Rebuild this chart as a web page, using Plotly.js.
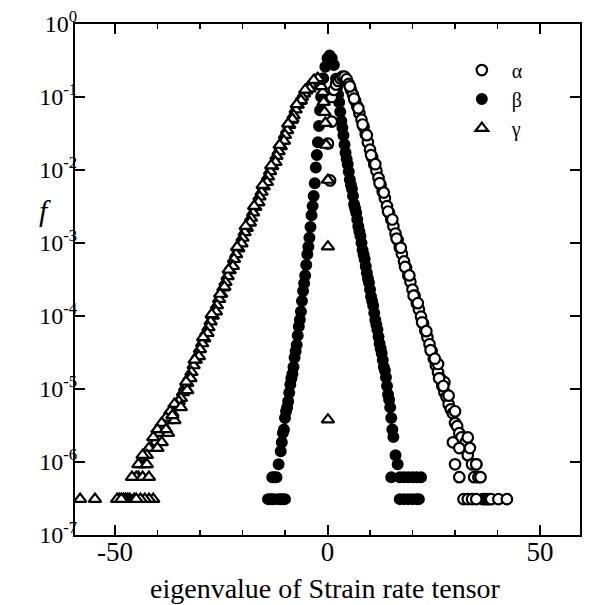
<!DOCTYPE html>
<html>
<head>
<meta charset="utf-8">
<script src="https://cdn.plot.ly/plotly-3.0.1.min.js"></script>
<style>body{margin:0;background:#fff}#chart{width:589px;height:605px}</style>
</head>
<body>
<div id="chart"></div>
<script>
// gamma (open triangles): smallest eigenvalue
const gammaX = [-1.1,-0.9,-0.7,-0.5,-0.3,0.1,0.1,0.1,
  -1.5,-2.0,-2.5,-3.0,-3.5,-4.0,-4.5,-5.0,-5.5,-6.0,-6.5,-7.0,-7.5,-8.0,-8.5,-9.0,-9.5,-10,
  -10.5,-11,-11.5,-12,-12.5,-13,-13.5,-14,-14.5,-15,-15.5,-16,-16.5,-17,-17.5,-18,-18.5,-19,-19.5,-20,
  -20.5,-21,-21.5,-22,-22.5,-23,-23.5,-24,-24.5,-25,-25.5,-26,-26.5,-27,-27.5,-28,-28.5,-29,-29.5,-30,
  -30.5,-31,-31.5,-32,-32.5,-33,-33.5,-34,-34.5,-35,-35.5,-36,-36.5,-37,-37.5,-38,-38.5,-39,-39.5,-40,
  -40.5,-41,-41.5,-42,-42.5,-43,-43.5,-44,-44.5,-45,-45.5,-46,-46.5,-47,-47.5,-48,-49,-49.5,-54.7,-58.2,
  -41,-42,-43,-44,-45,-48.5,-43.5,-44.5,-42.5,-42,
  -33,-34.5,-36,-37.5,-39,-40,-38,-36.5,
  -2.25,-3.25,-4.25,-5.25,-6.25,-7.25,-8.25,-9.25,-10.25,-11.25,-12.25,-13.25,-14.25,-15.25,-16.25,-17.25,
  -18.25,-19.25,-20.25,-21.25,-22.25,-23.25,-24.25,-25.25,-26.25,-27.25,-28.25,-29.25,-30.25,-31.25,-32.25,-33.25];
const gammaF = [0.117,0.085,0.062,0.044,0.022,0.0073,8.9e-4,3.8e-6,
  0.14,0.165,0.175,0.17,0.158,0.147,0.136,0.122,0.111,0.100,0.088,0.078,0.067,0.056,0.048,0.041,0.035,0.030,
  0.025,0.021,0.018,0.0155,0.013,0.0112,0.0096,0.0081,0.0069,0.0059,0.0050,0.0043,0.0036,0.0031,0.0026,0.0022,0.0019,0.0016,0.0014,0.00117,
  0.0010,8.4e-4,7.0e-4,6.0e-4,4.9e-4,4.2e-4,3.5e-4,2.9e-4,2.45e-4,2.0e-4,1.7e-4,1.4e-4,1.2e-4,1.0e-4,8.4e-5,7.0e-5,6.0e-5,4.9e-5,4.2e-5,3.5e-5,
  2.9e-5,2.5e-5,2.1e-5,1.7e-5,1.45e-5,1.2e-5,1.05e-5,9.0e-6,7.5e-6,6.8e-6,5.9e-6,6.2e-6,4.65e-6,4.96e-6,3.72e-6,4.03e-6,3.1e-6,3.41e-6,2.48e-6,2.79e-6,
  1.86e-6,2.17e-6,1.55e-6,1.55e-6,1.24e-6,9.3e-7,1.24e-6,9.3e-7,6.2e-7,6.2e-7,3.1e-7,6.2e-7,3.1e-7,3.1e-7,3.1e-7,3.1e-7,3.1e-7,3.1e-7,3.1e-7,3.1e-7,
  3.1e-7,3.1e-7,3.1e-7,3.1e-7,3.1e-7,3.1e-7,6.2e-7,9.3e-7,9.3e-7,6.2e-7,
  9.6e-6,5.6e-6,3.72e-6,2.48e-6,1.86e-6,1.55e-6,2.79e-6,4.34e-6,
  0.18,0.17,0.13,0.125,0.09,0.079,0.05,0.043,0.025,0.022,0.0128,0.0115,0.0068,0.0062,0.0036,0.0032,
  0.0019,0.0017,9.8e-4,8.8e-4,4.8e-4,4.3e-4,2.5e-4,2.0e-4,1.15e-4,1.05e-4,5.8e-5,5.1e-5,2.8e-5,2.5e-5,1.4e-5,1.25e-5];

// alpha (open circles): largest eigenvalue
const alphaX = [1.0,0.1,0.6,
  1.0,1.5,2.0,2.5,3.0,3.5,4.0,4.5,5.0,5.5,6.0,6.5,7.0,7.5,8.0,8.5,9.0,9.5,10,
  10.5,11,11.5,12,12.5,13,13.5,14,14.5,15,15.5,16,16.5,17,17.5,18,18.5,19,19.5,20,
  20.5,21,21.5,22,22.5,23,23.5,24,24.5,25,25.5,26,26.5,27,
  27.5,28,28.5,29,29.5,30,30.5,31,31.5,32,32.5,33,33.5,34,34.5,35,35.5,36,36.5,37,37.5,38,38.5,40.2,42.2,
  30,31,32,33,34,35,29.5,31,35,
  26,27.5,28.5,30,33,
  5.25,6.25,7.25,8.25,9.25,10.25,11.25,12.25,13.25,14.25,15.25,16.25,17.25,18.25,19.25,20.25,
  21.25,22.25,23.25,24.25,25.25,26.25,27.25];
const alphaF = [0.046,0.023,0.0072,
  0.10,0.125,0.148,0.166,0.18,0.19,0.19,0.175,0.151,0.126,0.107,0.089,0.074,0.060,0.049,0.039,0.031,0.024,0.019,
  0.015,0.012,0.0098,0.0078,0.0063,0.0050,0.0041,0.0032,0.0026,0.0021,0.0017,0.00135,0.0011,8.7e-4,7.1e-4,5.6e-4,4.6e-4,3.6e-4,2.95e-4,2.3e-4,
  1.9e-4,1.5e-4,1.23e-4,9.8e-5,7.9e-5,6.3e-5,5.1e-5,4.1e-5,3.3e-5,2.6e-5,2.1e-5,1.7e-5,1.4e-5,1.1e-5,
  9.0e-6,7.75e-6,6.2e-6,5.27e-6,4.65e-6,3.41e-6,3.1e-6,2.48e-6,2.17e-6,1.55e-6,1.86e-6,1.24e-6,1.55e-6,9.3e-7,6.2e-7,9.3e-7,6.2e-7,6.2e-7,3.1e-7,3.1e-7,3.1e-7,3.1e-7,3.1e-7,3.1e-7,3.1e-7,
  9.3e-7,6.2e-7,3.1e-7,3.1e-7,3.1e-7,3.1e-7,1.86e-6,1.55e-6,9.3e-7,
  2.2e-5,1.24e-5,8.1e-6,4.96e-6,2.17e-6,
  0.14,0.095,0.07,0.042,0.030,0.016,0.012,0.0066,0.0049,0.0027,0.0021,0.00115,8.6e-4,4.7e-4,3.6e-4,1.9e-4,
  1.5e-4,8.2e-5,6.2e-5,3.4e-5,2.6e-5,1.4e-5,1.1e-5];

// beta (filled circles): intermediate eigenvalue
const betaX = [0.5,0.0,-0.5,-1.0,-1.5,-2.0,-2.5,-3.0,-3.5,-4.0,-4.5,-5.0,-5.5,-6.0,-6.5,-7.0,-7.5,-8.0,-8.5,-9.0,-9.5,-10,-10.5,-11,-11.5,-12,-12.5,-13,-13.5,-14,
  -10,-10.5,-11,-11.5,-12.5,-13,
  1.0,1.5,2.0,2.5,3.0,3.5,4.0,4.5,5.0,5.5,6.0,6.5,7.0,7.5,8.0,8.5,9.0,9.5,10,10.5,11,11.5,12,12.5,13,13.5,14,14.5,15,15.5,16,16.5,
  15,17,18,19,20,21,22,17,18,19,20,21,21.5,
  -1.75,-2.25,-2.75,-3.25,-3.75,-4.25,-4.75,-5.25,-5.75,-6.25,-6.75,-7.25,-7.75,-8.25,-8.75,-9.25,-9.75,-10.25,-10.75,
  2.25,2.75,3.25,3.75,4.25,4.75,5.25,5.75,6.25,6.75,7.25,7.75,8.25,8.75,9.25,9.75,10.25,10.75,11.25,11.75,12.25,12.75,13.25,13.75,14.25,14.75,15.25];
const betaF = [0.37,0.34,0.26,0.18,0.10,0.040,0.016,0.0066,0.0032,0.00166,8.9e-4,5.0e-4,2.8e-4,1.6e-4,8.9e-5,5.4e-5,3.3e-5,2.0e-5,1.4e-5,8.9e-6,5.6e-6,4.0e-6,2.5e-6,1.4e-6,9.3e-7,6.2e-7,6.2e-7,6.2e-7,3.1e-7,3.1e-7,
  3.1e-7,3.1e-7,3.1e-7,3.1e-7,3.1e-7,3.1e-7,
  0.34,0.275,0.178,0.107,0.063,0.038,0.0224,0.0141,0.0095,0.0063,0.0044,0.0030,0.0021,0.00145,0.0010,6.9e-4,4.8e-4,3.3e-4,2.3e-4,1.6e-4,1.1e-4,7.6e-5,5.2e-5,3.6e-5,2.5e-5,1.8e-5,1.1e-5,7.1e-6,4.0e-6,2.2e-6,1.24e-6,9.3e-7,
  6.2e-7,6.2e-7,6.2e-7,6.2e-7,6.2e-7,6.2e-7,6.2e-7,3.1e-7,3.1e-7,3.1e-7,3.1e-7,3.1e-7,3.1e-7,
  0.066,0.024,0.0108,0.0044,0.0024,0.00118,7.0e-4,3.6e-4,2.2e-4,1.15e-4,7.2e-5,4.0e-5,2.7e-5,1.6e-5,1.15e-5,6.8e-6,4.96e-6,2.79e-6,1.86e-6,
  0.135,0.085,0.047,0.030,0.0172,0.0120,0.0074,0.0055,0.0034,0.0026,0.0017,0.00125,8.0e-4,6.0e-4,3.9e-4,2.85e-4,1.85e-4,1.38e-4,8.8e-5,6.5e-5,4.2e-5,3.1e-5,2.0e-5,1.45e-5,8.4e-6,5.6e-6,2.79e-6];

const seriesNames = ['α','β','γ'];
const yTickVals = [1e-7,1e-6,1e-5,1e-4,1e-3,1e-2,1e-1,1];
const yTickText = ['10<sup>-7</sup>','10<sup>-6</sup>','10<sup>-5</sup>','10<sup>-4</sup>','10<sup>-3</sup>','10<sup>-2</sup>','10<sup>-1</sup>','10<sup>0</sup>'];
const xTickVals = [-50,0,50];
const xTickText = ['-50','0','50'];

const serif = 'Liberation Serif, Times New Roman, serif';
const mk = (sym, fill, s, w) => ({symbol: sym, size: s, color: fill, line: {color: '#000', width: w}});
const legName = n => '\u00a0\u00a0' + n;

const traces = [
  {x: betaX, y: betaF, mode: 'markers', type: 'scatter', name: legName(seriesNames[1]), legendrank: 2,
   marker: mk('circle', '#000', 10, 2)},
  {x: alphaX, y: alphaF, mode: 'markers', type: 'scatter', name: legName(seriesNames[0]), legendrank: 1,
   marker: mk('circle', '#fff', 10.5, 2.2)},
  {x: gammaX, y: gammaF, mode: 'markers', type: 'scatter', name: legName(seriesNames[2]), legendrank: 3,
   marker: mk('triangle-up', '#fff', 11, 2.2)}
];

const layout = {
  width: 589, height: 605,
  margin: {l: 75, r: 9, t: 24, b: 70},
  paper_bgcolor: '#fff', plot_bgcolor: '#fff',
  font: {family: serif, color: '#000', size: 22},
  showlegend: true,
  legend: {x: 0.766, y: 0.948, xanchor: 'left', yanchor: 'top', bgcolor: 'rgba(0,0,0,0)',
           font: {family: serif, size: 20, color: '#000'}, itemwidth: 30},
  xaxis: {
    type: 'linear', range: [-59.4, 59.4],
    tickvals: xTickVals, ticktext: xTickText,
    ticks: 'inside', ticklen: 10, tickwidth: 2, tickcolor: '#000',
    minor: {dtick: 10, tick0: 0, ticks: 'inside', ticklen: 5, tickwidth: 1.5, tickcolor: '#000'},
    showline: true, linewidth: 2, linecolor: '#000', mirror: 'ticks',
    showgrid: false, zeroline: false, ticklabelstandoff: -8,
    tickfont: {family: serif, size: 27, color: '#000'}
  },
  yaxis: {
    type: 'log', range: [-7, 0],
    tickvals: yTickVals, ticktext: yTickText,
    ticks: 'inside', ticklen: 10, tickwidth: 2, tickcolor: '#000',
    showline: true, linewidth: 2, linecolor: '#000', mirror: 'ticks',
    showgrid: false, zeroline: false, ticklabelstandoff: -9,
    tickfont: {family: serif, size: 24, color: '#000'}
  },
  annotations: [
    {text: '<i>f</i>', xref: 'paper', yref: 'paper', x: -0.059, y: 0.635, showarrow: false,
     xanchor: 'center', yanchor: 'middle', font: {family: serif, size: 30, color: '#000'}},
    {text: 'eigenvalue of Strain rate tensor', xref: 'paper', yref: 'paper', x: 0.497, y: -0.104,
     showarrow: false, xanchor: 'center', yanchor: 'middle', font: {family: serif, size: 28, color: '#000'}}
  ]
};

Plotly.newPlot('chart', traces, layout, {staticPlot: true, displayModeBar: false});
</script>
</body>
</html>
